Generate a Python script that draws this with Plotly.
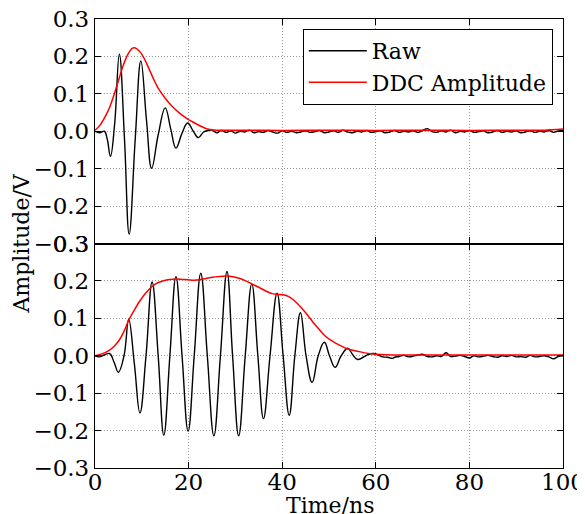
import plotly.graph_objects as go
from plotly.subplots import make_subplots

# top panel: short pulse
TOP_RAW_T = [0, 1.0, 2.0, 2.6, 3.3, 4.2, 5.2, 6.3, 7.3, 8.6, 9.8, 11.0, 12.1, 13.5,
             15.0, 16.2, 17.3, 18.6, 19.8, 21.0, 22.1, 23.2, 24.2]
TOP_RAW_V = [0.0, -0.004, 0.0, -0.02, -0.067, 0.02, 0.206, -0.02, -0.275, -0.02, 0.188,
             0.03, -0.099, -0.01, 0.0625, 0.005, -0.045, -0.005, 0.022, 0.0, -0.017, -0.002, 0.002]
TOP_TAIL_T = [25, 26, 27, 28, 29, 30, 31, 32, 33, 34, 35, 36, 37, 38, 39, 40, 41, 42, 43, 44,
              45, 46, 47, 48, 49, 50, 51, 52, 53, 54, 55, 56, 57, 58, 59, 60, 61, 62, 63, 64,
              65, 66, 67, 68, 69, 70, 71, 72, 73, 74, 75, 76, 77, 78, 79, 80, 81, 82, 83, 84,
              85, 86, 87, 88, 89, 90, 91, 92, 93, 94, 95, 96, 97, 98, 99, 100]
TOP_TAIL_V = [0.003, -0.004, 0.002, -0.003, 0.001, -0.005, 0.000, -0.002, 0.003, -0.004,
              -0.001, -0.003, 0.002, -0.002, -0.005, 0.001, -0.003, 0.000, -0.004, -0.002,
              0.001, -0.003, -0.001, 0.002, -0.004, -0.002, 0.001, -0.003, 0.003, -0.002,
              -0.004, 0.000, -0.002, 0.002, -0.003, -0.001, 0.001, -0.004, -0.002, 0.002,
              -0.003, 0.000, -0.002, 0.001, -0.003, 0.002, 0.007, -0.001, -0.003, 0.001,
              -0.002, 0.003, -0.004, 0.000, -0.002, 0.002, -0.003, -0.001, 0.001, -0.004,
              -0.002, 0.002, -0.003, 0.000, -0.002, 0.001, -0.004, -0.002, 0.001, -0.003,
              0.000, -0.002, 0.002, -0.003, 0.001, 0.002]
TOP_ENV_T = [0, 1, 2, 3, 4, 5, 6, 7, 8, 8.5, 9.5, 10.5, 11.5, 12.5, 13.5, 15, 16.5, 18,
             19.5, 21, 22.5, 24, 26, 30, 40, 50, 60, 70, 80, 90, 96, 100]
TOP_ENV_V = [0.003, 0.015, 0.035, 0.06, 0.095, 0.135, 0.175, 0.205, 0.222, 0.223, 0.214,
             0.195, 0.168, 0.14, 0.115, 0.088, 0.066, 0.049, 0.035, 0.024, 0.014, 0.006,
             0.003, 0.003, 0.002, 0.003, 0.002, 0.003, 0.002, 0.003, 0.003, 0.006]

# bottom panel: long pulse
BOT_RAW_T = [0, 0.9, 2.0, 3.1, 4.1, 5.0, 6.2, 7.2, 8.4, 9.6, 10.9, 12.2, 13.5, 14.7, 16.0,
             17.3, 18.6, 19.9, 21.2, 22.6, 24.0, 25.4, 26.8, 28.2, 29.4, 30.7, 32.1, 33.5,
             34.8, 36.0, 37.4, 38.9, 40.2, 41.5, 42.7, 43.9, 45.1, 46.4, 47.7, 49.0, 50.1,
             51.3, 52.6, 54.0, 55.0, 56.1, 57.3, 58.5, 59.5, 60.5, 61.5, 62.5, 63.6]
BOT_RAW_V = [0.0, -0.003, 0.002, 0.006, -0.018, -0.044, 0.0, 0.098, -0.02, -0.153, 0.0,
             0.197, 0.0, -0.2125, 0.0, 0.2116, 0.0, -0.202, 0.0, 0.2205, 0.0, -0.214, 0.0,
             0.225, 0.0, -0.214, 0.0, 0.192, 0.0, -0.168, 0.0, 0.167, 0.0, -0.159, 0.0,
             0.115, 0.0, -0.071, 0.0, 0.036, 0.0, -0.031, 0.0, 0.020, 0.004, -0.010, -0.004,
             0.004, 0.006, 0.002, -0.003, -0.004, -0.007]
BOT_TAIL_T = [64, 65, 66, 67, 68, 69, 70, 71, 72, 73, 74, 75, 76, 77, 78, 79, 80, 81, 82,
              83, 84, 85, 86, 87, 88, 89, 90, 91, 92, 93, 94, 95, 96, 97, 98, 99, 100]
BOT_TAIL_V = [-0.004, -0.002, 0.001, -0.003, -0.001, 0.002, 0.004, -0.002, -0.003, 0.000,
              -0.002, 0.008, -0.002, -0.001, 0.001, -0.002, -0.006, 0.000, -0.003, -0.001,
              0.001, -0.002, -0.004, 0.000, -0.002, 0.001, -0.003, -0.002, -0.004, 0.001,
              -0.003, -0.002, 0.000, -0.003, -0.008, -0.002, 0.000]
BOT_ENV_T = [0, 1.5, 3.1, 4.2, 5.2, 6.2, 7.2, 8.4, 9.5, 10.8, 12.2, 13.4, 14.5, 16.0, 17.3,
             18.6, 19.9, 21.2, 22.3, 23.6, 25.1, 26.6, 28.2, 29.5, 30.8, 32.2, 33.5, 35.0,
             36.5, 37.8, 38.9, 40.2, 41.4, 42.6, 43.9, 45.2, 46.5, 47.8, 49.0, 50.2, 51.5,
             52.8, 54.0, 55.3, 56.5, 58.0, 59.5, 62, 66, 70, 75, 80, 85, 90, 95, 100]
BOT_ENV_V = [0.0, 0.005, 0.015, 0.027, 0.042, 0.065, 0.095, 0.122, 0.145, 0.167, 0.185,
             0.195, 0.2, 0.204, 0.205, 0.204, 0.203, 0.202, 0.203, 0.206, 0.21, 0.212,
             0.213, 0.211, 0.207, 0.2, 0.192, 0.183, 0.173, 0.166, 0.164, 0.163, 0.158,
             0.147, 0.131, 0.112, 0.091, 0.072, 0.055, 0.043, 0.033, 0.025, 0.018, 0.014,
             0.011, 0.007, 0.0045, 0.003, 0.002, 0.002, 0.002, 0.002, 0.002, 0.002, 0.002,
             0.002]

FONT = "DejaVu Serif"

fig = make_subplots(rows=2, cols=1, shared_xaxes=True, vertical_spacing=0)

panels = [
    (TOP_RAW_T + TOP_TAIL_T, TOP_RAW_V + TOP_TAIL_V, TOP_ENV_T, TOP_ENV_V),
    (BOT_RAW_T + BOT_TAIL_T, BOT_RAW_V + BOT_TAIL_V, BOT_ENV_T, BOT_ENV_V),
]
for i, (rt, rv, et, ev) in enumerate(panels, start=1):
    fig.add_trace(go.Scatter(x=rt, y=rv, mode="lines", name="Raw", showlegend=(i == 1),
                             line=dict(color="black", width=1.4, shape="spline", smoothing=1.2)),
                  row=i, col=1)
    fig.add_trace(go.Scatter(x=et, y=ev, mode="lines", name="DDC Amplitude", showlegend=(i == 1),
                             line=dict(color="red", width=1.5, shape="spline", smoothing=0.8)),
                  row=i, col=1)

axis_style = dict(
    showline=True, linecolor="black", linewidth=1.3, mirror="ticks",
    ticks="inside", ticklen=6, tickwidth=1.2, tickcolor="black",
    showgrid=True, gridcolor="#9a9a9a", griddash="1px,2px", gridwidth=1,
    zeroline=False, automargin=False, ticklabeloverflow="allow",
    tickfont=dict(family=FONT, size=23, color="black"),
)
fig.update_xaxes(range=[0, 100], dtick=20, ticklabelstandoff=-7, **axis_style)
fig.update_xaxes(showticklabels=False, row=1, col=1)
fig.update_yaxes(range=[-0.3, 0.3], dtick=0.1, tickformat=".1f", **axis_style)

fig.add_annotation(text="Amplitude/V", textangle=-90, xref="paper", yref="paper",
                   x=-0.158, y=0.5, xanchor="center", yanchor="middle", showarrow=False,
                   font=dict(family=FONT, size=22, color="black"))
fig.add_annotation(text="Time/ns", xref="paper", yref="paper",
                   x=0.502, y=-0.084, xanchor="center", yanchor="middle", showarrow=False,
                   font=dict(family=FONT, size=22, color="black"))

# the page body keeps its default 8px margin, so the figure is 8px smaller
fig.update_layout(
    width=577, height=506,
    margin=dict(l=87, r=22, t=11, b=46),
    paper_bgcolor="white", plot_bgcolor="white",
    font=dict(family=FONT, size=22, color="black"),
    legend=dict(x=0.444, y=0.978, xanchor="left", yanchor="top", itemwidth=58,
                bordercolor="black", borderwidth=1, bgcolor="white",
                font=dict(family=FONT, size=22)),
)

fig.write_html("out.html")
